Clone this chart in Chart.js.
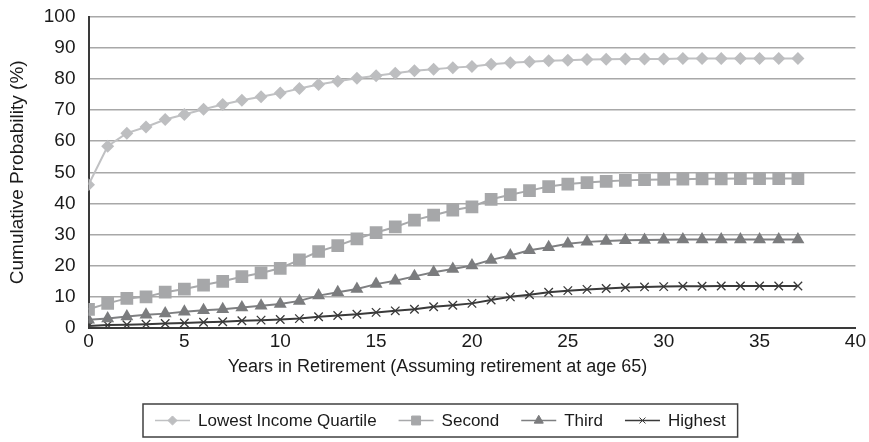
<!DOCTYPE html>
<html>
<head>
<meta charset="utf-8">
<script src="https://cdn.jsdelivr.net/npm/chart.js@4/dist/chart.umd.min.js"></script>
<style>
  html, body { margin: 0; padding: 0; background: #fff; }
  #wrap { width: 869px; height: 442px; position: relative; }
</style>
</head>
<body>
<div id="wrap"><canvas id="retireChart"></canvas></div>
<script>
// Years in retirement (x positions)
const years = Array.from({ length: 38 }, (_, i) => i);

// Cumulative probability (%) per income quartile
const lowestQuartile = [
  46, 58.4, 62.6, 64.6, 67, 68.6, 70.3, 71.8, 73.2, 74.3, 75.5, 77, 78.3, 79.3,
  80.3, 81.1, 81.9, 82.7, 83.2, 83.7, 84.1, 84.8, 85.3, 85.6, 85.9, 86.1, 86.3, 86.4,
  86.5, 86.5, 86.5, 86.6, 86.6, 86.6, 86.6, 86.6, 86.6, 86.6
];
const secondQuartile = [
  5.9, 7.8, 9.4, 9.9, 11.4, 12.4, 13.7, 14.9, 16.4, 17.6, 19.1, 21.8, 24.5, 26.4,
  28.6, 30.6, 32.4, 34.6, 36.2, 37.8, 38.9, 41.3, 42.8, 44.1, 45.4, 46.2, 46.7, 47.1,
  47.4, 47.6, 47.7, 47.8, 47.9, 47.9, 48, 48, 48, 48
];
const thirdQuartile = [
  2.5, 2.9, 3.6, 4.1, 4.5, 5.1, 5.6, 5.9, 6.5, 7, 7.6, 8.6, 10.3, 11.4,
  12.4, 14, 15.1, 16.5, 17.8, 18.9, 20, 21.8, 23.2, 24.9, 25.9, 27, 27.6, 27.9,
  28.1, 28.2, 28.3, 28.4, 28.4, 28.4, 28.4, 28.4, 28.4, 28.4
];
const highestQuartile = [
  0.5, 0.8, 0.9, 1.1, 1.3, 1.5, 1.7, 1.9, 2.2, 2.4, 2.6, 2.9, 3.5, 3.9,
  4.3, 4.9, 5.4, 5.9, 6.7, 7.2, 7.8, 8.9, 9.9, 10.6, 11.4, 11.9, 12.3, 12.6,
  12.9, 13.1, 13.2, 13.3, 13.3, 13.4, 13.4, 13.4, 13.4, 13.4
];

const seriesNames = ['Lowest Income Quartile', 'Second', 'Third', 'Highest'];
const xTicks = [0, 5, 10, 15, 20, 25, 30, 35, 40];

const FONT = '"Liberation Sans", Arial, sans-serif';

function toPoints(vals) {
  return vals.map((v, i) => ({ x: years[i], y: v }));
}

const styles = [
  { line: '#c0c1c3', point: '#bdbec0', shape: 'rectRot', r: 6.5 },
  { line: '#a8a9ab', point: '#a6a7a9', shape: 'rect', r: 9 },
  { line: '#7e7f81', point: '#7b7c7e', shape: 'triangle', r: 7.5 },
  { line: '#3a3a3a', point: '#3a3a3a', shape: 'crossRot', r: 6 }
];
const seriesData = [lowestQuartile, secondQuartile, thirdQuartile, highestQuartile];

const datasets = seriesData.map((vals, k) => ({
  label: seriesNames[k],
  data: toPoints(vals),
  borderColor: styles[k].line,
  backgroundColor: styles[k].point,
  borderWidth: 2,
  pointStyle: styles[k].shape,
  pointRadius: styles[k].r,
  pointBackgroundColor: styles[k].point,
  pointBorderColor: styles[k].point,
  pointBorderWidth: k === 3 ? 1.3 : 0,
  tension: 0
}));

// legend with a line through each marker, framed by a box
const boxLegend = {
  id: 'boxLegend',
  afterDraw(chart) {
    const ctx = chart.ctx;
    ctx.save();
    ctx.font = '17px ' + FONT;
    const seg = 35, gapTxt = 8, gapItem = 22;
    let total = 0;
    const widths = seriesNames.map(n => ctx.measureText(n).width);
    widths.forEach(w => { total += seg + gapTxt + w; });
    total += gapItem * (seriesNames.length - 1);
    const padX = 12;
    const boxW = total + padX * 2;
    const left = 143, top = 404, boxH = 33;
    ctx.strokeStyle = '#404040';
    ctx.lineWidth = 1.5;
    ctx.strokeRect(left, top, boxW, boxH);
    let x = left + padX;
    const cy = top + boxH / 2;
    seriesNames.forEach((n, k) => {
      const st = styles[k];
      ctx.strokeStyle = st.line;
      ctx.lineWidth = 1.6;
      ctx.beginPath();
      ctx.moveTo(x, cy);
      ctx.lineTo(x + seg, cy);
      ctx.stroke();
      ctx.fillStyle = st.point;
      ctx.strokeStyle = st.point;
      ctx.lineWidth = 1;
      Chart.helpers.drawPoint(ctx, { pointStyle: st.shape, radius: st.r * 0.7, borderWidth: 1 }, x + seg / 2, cy);
      ctx.fillStyle = '#1a1a1a';
      ctx.textBaseline = 'middle';
      ctx.fillText(n, x + seg + gapTxt, cy + 1);
      x += seg + gapTxt + widths[k] + gapItem;
    });
    ctx.restore();
  }
};

new Chart(document.getElementById('retireChart').getContext('2d'), {
  type: 'line',
  data: { datasets: datasets },
  options: {
    responsive: true,
    maintainAspectRatio: false,
    animation: false,
    layout: { padding: { top: 17, right: 0, bottom: 64, left: 6 } },
    scales: {
      x: {
        type: 'linear',
        min: 0,
        max: 40,
        afterBuildTicks: axis => { axis.ticks = xTicks.map(v => ({ value: v })); },
        grid: { display: false, drawTicks: false },
        border: { display: true, color: '#3a3a3a', width: 2 },
        ticks: { color: '#1a1a1a', font: { family: FONT, size: 19 }, padding: 3, maxRotation: 0 }
      },
      y: {
        min: 0,
        max: 100,
        ticks: { stepSize: 10, color: '#1a1a1a', font: { family: FONT, size: 19 }, padding: 2 },
        grid: { color: '#a8a8a8', lineWidth: 1.5, drawTicks: true, tickLength: 11, tickColor: 'rgba(0,0,0,0)' },
        border: { display: true, color: '#3a3a3a', width: 2 },
        title: {
          display: true,
          text: 'Cumulative Probability (%)',
          color: '#1a1a1a',
          font: { family: FONT, size: 19 },
          padding: { top: 0, bottom: 13 }
        }
      }
    },
    plugins: {
      legend: { display: false },
      tooltip: { enabled: false },
      title: {
        display: true,
        position: 'bottom',
        text: 'Years in Retirement (Assuming retirement at age 65)',
        color: '#1a1a1a',
        font: { family: FONT, size: 18, weight: 'normal' },
        padding: { top: 0, bottom: 0 }
      }
    }
  },
  plugins: [boxLegend]
});
</script>
</body>
</html>
